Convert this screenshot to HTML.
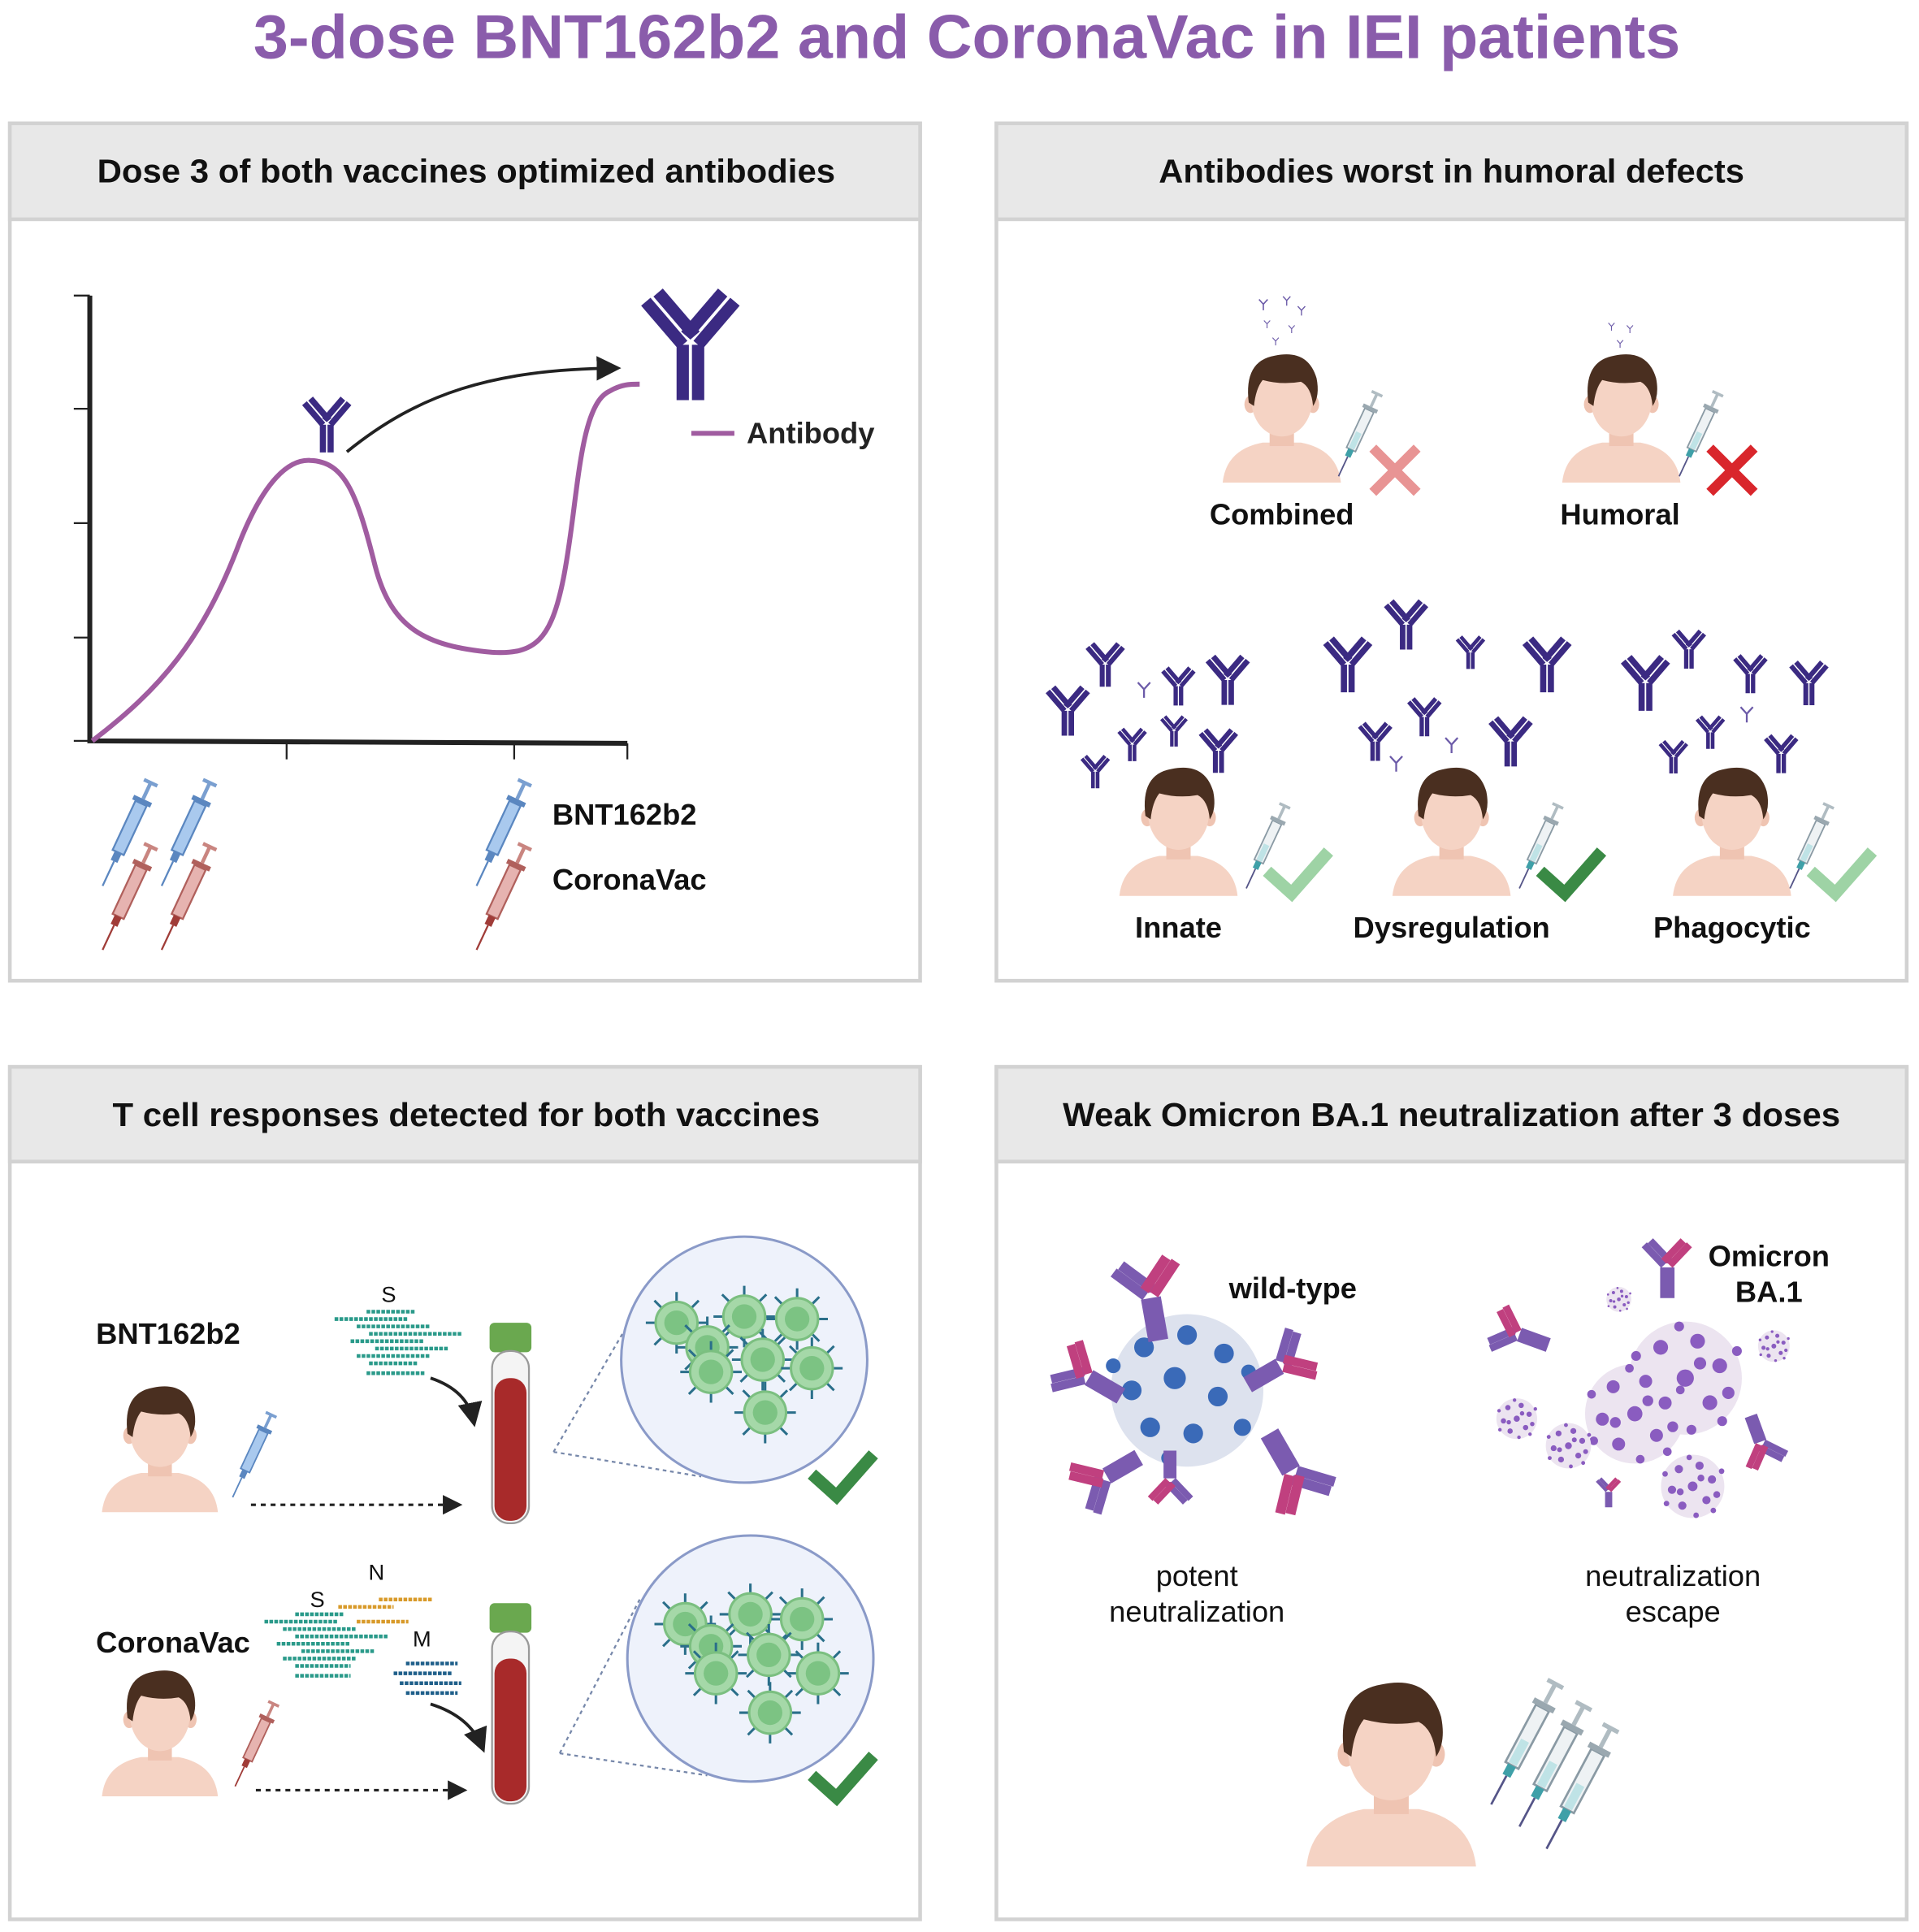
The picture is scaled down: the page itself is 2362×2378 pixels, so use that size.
<!DOCTYPE html>
<html><head><meta charset="utf-8"><style>
html,body{margin:0;padding:0;background:#fff}
svg{display:block}
text{font-family:"Liberation Sans",sans-serif}
</style></head><body>
<svg width="2362" height="2378" viewBox="0 0 1560 1570" xmlns="http://www.w3.org/2000/svg">
<defs>
<symbol id="person" viewBox="-70 0 140 150" overflow="visible">
 <path d="M-68,150 Q-64,112 -22,104 L22,104 Q64,112 68,150 Z" fill="#f5d3c4"/>
 <rect x="-14" y="82" width="28" height="26" fill="#efc4b2"/>
 <ellipse cx="-36" cy="60" rx="7" ry="10" fill="#efc4b2"/>
 <ellipse cx="36" cy="60" rx="7" ry="10" fill="#efc4b2"/>
 <ellipse cx="0" cy="55" rx="35" ry="42" fill="#f5d3c4"/>
 <path d="M-38,58 Q-44,10 -8,4 Q30,-4 40,30 Q44,50 36,62 Q34,40 22,34 Q0,38 -22,32 Q-30,42 -32,62 Z" fill="#4a2f20"/>
</symbol>
<symbol id="ab" viewBox="-20 -20 40 40" overflow="visible">
 <g stroke="#3b2a82" stroke-width="4" fill="none" stroke-linecap="butt">
 <path d="M-2,0 L-2,18 M3,0 L3,18 M-2,0 L-14,-14 M2,-3 L-10,-17 M3,0 L15,-14 M-1,-3 L11,-17"/>
 </g>
</symbol>
<symbol id="abs" viewBox="-20 -20 40 40" overflow="visible">
 <g stroke="#6b5aa8" stroke-width="3" fill="none">
 <path d="M0,0 L0,14 M0,0 L-10,-11 M0,0 L10,-11"/>
 </g>
</symbol>
<symbol id="syrB" viewBox="-10 -50 20 100" overflow="visible">
 <rect x="-5" y="-30" width="10" height="44" fill="#a9c9ee" stroke="#5b87c0" stroke-width="1.5"/>
 <rect x="-8" y="-34" width="16" height="4" fill="#5b87c0"/>
 <rect x="-1.5" y="-48" width="3" height="14" fill="#7a9fd0"/>
 <rect x="-6" y="-50" width="12" height="3" fill="#7a9fd0"/>
 <rect x="-3" y="14" width="6" height="8" fill="#5b87c0"/>
 <line x1="0" y1="22" x2="0" y2="44" stroke="#5b87c0" stroke-width="1.5"/>
</symbol>
<symbol id="syrR" viewBox="-10 -50 20 100" overflow="visible">
 <rect x="-5" y="-30" width="10" height="44" fill="#e6b3b0" stroke="#b0605c" stroke-width="1.5"/>
 <rect x="-8" y="-34" width="16" height="4" fill="#b0605c"/>
 <rect x="-1.5" y="-48" width="3" height="14" fill="#c98580"/>
 <rect x="-6" y="-50" width="12" height="3" fill="#c98580"/>
 <rect x="-3" y="14" width="6" height="8" fill="#a03c38"/>
 <line x1="0" y1="22" x2="0" y2="44" stroke="#a03c38" stroke-width="1.5"/>
</symbol>
<symbol id="syrG" viewBox="-10 -50 20 100" overflow="visible">
 <rect x="-5" y="-30" width="10" height="44" fill="#eef2f4" stroke="#8a9aa4" stroke-width="1.5"/>
 <rect x="-3" y="-5" width="6" height="18" fill="#bfe3e6"/>
 <rect x="-8" y="-34" width="16" height="4" fill="#9aa8b0"/>
 <rect x="-1.5" y="-48" width="3" height="14" fill="#b0bcc2"/>
 <rect x="-6" y="-50" width="12" height="3" fill="#b0bcc2"/>
 <rect x="-3" y="14" width="6" height="8" fill="#3fa0a8"/>
 <line x1="0" y1="22" x2="0" y2="44" stroke="#558" stroke-width="1.5"/>
</symbol>
<symbol id="cell" viewBox="-20 -20 40 40" overflow="visible">
 <g stroke="#2a6f8a" stroke-width="2">
 <path d="M0,-17 L0,-25 M0,17 L0,25 M-17,0 L-25,0 M17,0 L25,0 M-12,-12 L-18,-18 M12,12 L18,18 M12,-12 L18,-18 M-12,12 L-18,18"/>
 </g>
 <circle r="17" fill="#a5d8a8" stroke="#7bbf80" stroke-width="2"/>
 <circle r="10" fill="#7cc383"/>
</symbol>
<symbol id="virus" viewBox="-50 -50 100 100" overflow="visible">
 <circle r="46" fill="#ece4f0"/>
 <g fill="#8a5cc0">
 <circle cx="-20" cy="-25" r="6"/><circle cx="10" cy="-30" r="6"/><circle cx="28" cy="-10" r="6"/><circle cx="-30" cy="5" r="6"/>
 <circle cx="0" cy="0" r="7"/><circle cx="20" cy="20" r="6"/><circle cx="-15" cy="28" r="6"/><circle cx="35" cy="12" r="5"/>
 <circle cx="-5" cy="-42" r="4"/><circle cx="-40" cy="-18" r="4"/><circle cx="42" cy="-22" r="4"/><circle cx="5" cy="42" r="4"/>
 <circle cx="-38" cy="25" r="4"/><circle cx="30" cy="35" r="4"/><circle cx="-18" cy="8" r="5"/><circle cx="12" cy="-12" r="5"/>
 </g>
</symbol>
<symbol id="pab" viewBox="-30 -30 60 60" overflow="visible">
 <g stroke-width="7" fill="none">
 <path d="M-3,0 L-3,30 M4,0 L4,30" stroke="#7b5bb0"/>
 <path d="M-3,-2 L-22,-22 M3,-6 L-16,-26" stroke="#7b5bb0"/>
 <path d="M3,-2 L22,-22 M-3,-6 L16,-26" stroke="#c0407f"/>
 </g>
</symbol>
<marker id="ah" markerWidth="8" markerHeight="8" refX="6" refY="4" orient="auto"><path d="M0,0 L8,4 L0,8 Z" fill="#222"/></marker>
</defs>

<!-- Title -->
<text x="786" y="47" text-anchor="middle" font-size="50" font-weight="bold" fill="#8a5cab" textLength="1160" lengthAdjust="spacingAndGlyphs">3-dose BNT162b2 and CoronaVac in IEI patients</text>

<!-- Panels -->
<g stroke="#d2d2d2" stroke-width="3">
<rect x="8" y="100" width="740" height="697" fill="#fff"/>
<rect x="8" y="100" width="740" height="78" fill="#e8e8e8"/>
<rect x="810" y="100" width="740" height="697" fill="#fff"/>
<rect x="810" y="100" width="740" height="78" fill="#e8e8e8"/>
<rect x="8" y="867" width="740" height="693" fill="#fff"/>
<rect x="8" y="867" width="740" height="77" fill="#e8e8e8"/>
<rect x="810" y="867" width="740" height="693" fill="#fff"/>
<rect x="810" y="867" width="740" height="77" fill="#e8e8e8"/>
</g>
<g font-size="27" font-weight="bold" fill="#111" text-anchor="middle">
<text x="379" y="148" textLength="600" lengthAdjust="spacingAndGlyphs">Dose 3 of both vaccines optimized antibodies</text>
<text x="1180" y="148" textLength="476" lengthAdjust="spacingAndGlyphs">Antibodies worst in humoral defects</text>
<text x="379" y="915" textLength="575" lengthAdjust="spacingAndGlyphs">T cell responses detected for both vaccines</text>
<text x="1180" y="915" textLength="632" lengthAdjust="spacingAndGlyphs">Weak Omicron BA.1 neutralization after 3 doses</text>
</g>

<!-- Panel 1 graph -->
<g stroke="#222" stroke-width="4" fill="none">
<path d="M73,240 L73,602 L510,604"/>
</g>
<g stroke="#222" stroke-width="1.5">
<path d="M60,240 L73,240 M60,332 L73,332 M60,425 L73,425 M60,518 L73,518 M60,602 L73,602 M233,604 L233,617 M418,604 L418,617 M510,604 L510,617"/>
</g>
<path d="M75,602 C130,560 165,520 195,440 C215,390 235,373 252,374 C280,375 290,400 305,460 C318,510 345,525 400,530 C435,532 448,520 458,470 C470,410 470,330 495,318 C505,312 512,312 520,312" fill="none" stroke="#a05ca0" stroke-width="4"/>
<path d="M282,367 C340,320 400,300 500,299" fill="none" stroke="#222" stroke-width="2.5" marker-end="url(#ah)"/>
<line x1="562" y1="352" x2="597" y2="352" stroke="#a05ca0" stroke-width="4"/>
<text x="607" y="360" font-size="24" font-weight="bold" fill="#222">Antibody</text>
<use href="#ab" x="240" y="320" width="50" height="50"/>
<use href="#ab" x="510" y="230" width="100" height="100"/>
<use href="#syrB" x="92" y="630" width="20" height="100" transform="rotate(25 102 680)"/>
<use href="#syrR" x="92" y="682" width="20" height="100" transform="rotate(25 102 732)"/>
<use href="#syrB" x="140" y="630" width="20" height="100" transform="rotate(25 150 680)"/>
<use href="#syrR" x="140" y="682" width="20" height="100" transform="rotate(25 150 732)"/>
<use href="#syrB" x="396" y="630" width="20" height="100" transform="rotate(25 406 680)"/>
<use href="#syrR" x="396" y="682" width="20" height="100" transform="rotate(25 406 732)"/>
<text x="449" y="670" font-size="24" font-weight="bold" fill="#111">BNT162b2</text>
<text x="449" y="723" font-size="24" font-weight="bold" fill="#111">CoronaVac</text>

<!-- Panel 2 -->
<g>
<use href="#abs" x="1020" y="240" width="14" height="14"/><use href="#abs" x="1040" y="238" width="12" height="12"/><use href="#abs" x="1052" y="246" width="12" height="12"/>
<use href="#abs" x="1025" y="258" width="10" height="10"/><use href="#abs" x="1045" y="262" width="10" height="10"/><use href="#abs" x="1032" y="272" width="10" height="10"/>
<use href="#abs" x="1305" y="260" width="10" height="10"/><use href="#abs" x="1320" y="262" width="10" height="10"/><use href="#abs" x="1312" y="274" width="10" height="10"/>
</g>
<use href="#person" x="990" y="286" width="104" height="106"/>
<use href="#person" x="1266" y="286" width="104" height="106"/>
<use href="#syrG" x="1095" y="315" width="16" height="80" transform="rotate(25 1103 355)"/>
<use href="#syrG" x="1372" y="315" width="16" height="80" transform="rotate(25 1380 355)"/>
<path d="M1116,364 L1152,400 M1152,364 L1116,400" stroke="#e89494" stroke-width="8"/>
<path d="M1390,364 L1426,400 M1426,364 L1390,400" stroke="#d9262c" stroke-width="8"/>
<text x="1042" y="426" font-size="24" font-weight="bold" text-anchor="middle" fill="#111">Combined</text>
<text x="1317" y="426" font-size="24" font-weight="bold" text-anchor="middle" fill="#111">Humoral</text>

<g>
<use href="#ab" x="845" y="555" width="45" height="45"/><use href="#ab" x="878" y="520" width="40" height="40"/><use href="#ab" x="975" y="530" width="45" height="45"/>
<use href="#ab" x="940" y="540" width="35" height="35"/><use href="#ab" x="970" y="590" width="40" height="40"/><use href="#ab" x="875" y="612" width="30" height="30"/>
<use href="#ab" x="905" y="590" width="30" height="30"/><use href="#ab" x="940" y="580" width="28" height="28"/><use href="#abs" x="920" y="550" width="20" height="20"/>
<use href="#ab" x="1070" y="515" width="50" height="50"/><use href="#ab" x="1120" y="485" width="45" height="45"/><use href="#ab" x="1232" y="515" width="50" height="50"/>
<use href="#ab" x="1180" y="515" width="30" height="30"/><use href="#ab" x="1100" y="585" width="35" height="35"/><use href="#ab" x="1140" y="565" width="35" height="35"/>
<use href="#ab" x="1205" y="580" width="45" height="45"/><use href="#abs" x="1125" y="610" width="20" height="20"/><use href="#abs" x="1170" y="595" width="20" height="20"/>
<use href="#ab" x="1312" y="530" width="50" height="50"/><use href="#ab" x="1355" y="510" width="35" height="35"/><use href="#ab" x="1450" y="535" width="40" height="40"/>
<use href="#ab" x="1405" y="530" width="35" height="35"/><use href="#ab" x="1430" y="595" width="35" height="35"/><use href="#ab" x="1345" y="600" width="30" height="30"/>
<use href="#ab" x="1375" y="580" width="30" height="30"/><use href="#abs" x="1410" y="570" width="20" height="20"/>
</g>
<use href="#person" x="906" y="622" width="104" height="106"/>
<use href="#person" x="1128" y="622" width="104" height="106"/>
<use href="#person" x="1356" y="622" width="104" height="106"/>
<use href="#syrG" x="1020" y="650" width="16" height="80" transform="rotate(25 1028 690)"/>
<use href="#syrG" x="1242" y="650" width="16" height="80" transform="rotate(25 1250 690)"/>
<use href="#syrG" x="1462" y="650" width="16" height="80" transform="rotate(25 1470 690)"/>
<path d="M1030,708 L1050,726 L1080,692" fill="none" stroke="#9ed3a5" stroke-width="10"/>
<path d="M1252,708 L1272,726 L1302,692" fill="none" stroke="#3a8a45" stroke-width="10"/>
<path d="M1472,708 L1492,726 L1522,692" fill="none" stroke="#9ed3a5" stroke-width="10"/>
<g font-size="24" font-weight="bold" text-anchor="middle" fill="#111">
<text x="958" y="762">Innate</text><text x="1180" y="762">Dysregulation</text><text x="1408" y="762">Phagocytic</text>
</g>

<!-- Panel 3 -->
<text x="78" y="1092" font-size="24" font-weight="bold" fill="#111">BNT162b2</text>
<text x="78" y="1343" font-size="24" font-weight="bold" fill="#111">CoronaVac</text>
<use href="#person" x="78" y="1125" width="104" height="104"/>
<use href="#person" x="78" y="1356" width="104" height="104"/>
<use href="#syrB" x="196" y="1145" width="16" height="80" transform="rotate(25 204 1185)"/>
<use href="#syrR" x="198" y="1380" width="16" height="80" transform="rotate(25 206 1420)"/>
<line x1="204" y1="1223" x2="372" y2="1223" stroke="#222" stroke-width="2" stroke-dasharray="4,4" marker-end="url(#ah)"/>
<line x1="208" y1="1455" x2="376" y2="1455" stroke="#222" stroke-width="2" stroke-dasharray="4,4" marker-end="url(#ah)"/>
<text x="316" y="1058" font-size="18" text-anchor="middle" fill="#111">S</text>
<g stroke="#2a9a8a" stroke-width="3" stroke-dasharray="3,1">
<path d="M298,1066 L338,1066 M272,1072 L332,1072 M290,1078 L350,1078 M300,1084 L375,1084 M285,1090 L345,1090 M305,1096 L365,1096 M290,1102 L350,1102 M300,1108 L340,1108 M298,1116 L345,1116"/>
</g>
<path d="M350,1120 Q380,1130 385,1155" fill="none" stroke="#222" stroke-width="2.5" marker-end="url(#ah)"/>
<text x="258" y="1306" font-size="18" text-anchor="middle" fill="#111">S</text>
<text x="306" y="1284" font-size="18" text-anchor="middle" fill="#111">N</text>
<text x="343" y="1338" font-size="18" text-anchor="middle" fill="#111">M</text>
<g stroke="#2a9a8a" stroke-width="3" stroke-dasharray="3,1">
<path d="M240,1312 L280,1312 M215,1318 L275,1318 M230,1324 L290,1324 M240,1330 L315,1330 M225,1336 L285,1336 M245,1342 L305,1342 M230,1348 L290,1348 M240,1354 L285,1354 M240,1362 L285,1362"/>
</g>
<g stroke="#d89a2a" stroke-width="3" stroke-dasharray="3,1"><path d="M308,1300 L352,1300 M275,1306 L320,1306 M290,1318 L332,1318"/></g>
<g stroke="#1f5f8a" stroke-width="3" stroke-dasharray="3,1"><path d="M330,1352 L372,1352 M320,1360 L368,1360 M325,1368 L375,1368 M330,1376 L372,1376"/></g>
<path d="M350,1385 Q382,1395 392,1420" fill="none" stroke="#222" stroke-width="2.5" marker-end="url(#ah)"/>
<!-- tubes -->
<g>
<rect x="398" y="1075" width="34" height="24" rx="4" fill="#6aa84f"/>
<rect x="400" y="1098" width="30" height="140" rx="14" fill="#f4f4f4" stroke="#999" stroke-width="1.5"/>
<rect x="402" y="1120" width="26" height="116" rx="12" fill="#a82a2a"/>
<rect x="398" y="1303" width="34" height="24" rx="4" fill="#6aa84f"/>
<rect x="400" y="1326" width="30" height="140" rx="14" fill="#f4f4f4" stroke="#999" stroke-width="1.5"/>
<rect x="402" y="1348" width="26" height="116" rx="12" fill="#a82a2a"/>
</g>
<g stroke="#7788aa" stroke-width="1.5" stroke-dasharray="3,3" fill="none">
<path d="M450,1180 L520,1060 M450,1180 L570,1200"/>
<path d="M455,1425 L520,1300 M455,1425 L575,1443"/>
</g>
<circle cx="605" cy="1105" r="100" fill="#eef2fb" stroke="#8a9ac8" stroke-width="2"/>
<circle cx="610" cy="1348" r="100" fill="#eef2fb" stroke="#8a9ac8" stroke-width="2"/>
<g>
<use href="#cell" x="530" y="1055" width="40" height="40"/><use href="#cell" x="585" y="1050" width="40" height="40"/><use href="#cell" x="628" y="1052" width="40" height="40"/>
<use href="#cell" x="555" y="1075" width="40" height="40"/><use href="#cell" x="600" y="1085" width="40" height="40"/><use href="#cell" x="640" y="1092" width="40" height="40"/>
<use href="#cell" x="558" y="1095" width="40" height="40"/><use href="#cell" x="602" y="1128" width="40" height="40"/>
<use href="#cell" x="537" y="1300" width="40" height="40"/><use href="#cell" x="590" y="1292" width="40" height="40"/><use href="#cell" x="632" y="1296" width="40" height="40"/>
<use href="#cell" x="558" y="1318" width="40" height="40"/><use href="#cell" x="605" y="1325" width="40" height="40"/><use href="#cell" x="645" y="1340" width="40" height="40"/>
<use href="#cell" x="562" y="1340" width="40" height="40"/><use href="#cell" x="606" y="1372" width="40" height="40"/>
</g>
<path d="M660,1198 L680,1216 L710,1182" fill="none" stroke="#3a8a45" stroke-width="10"/>
<path d="M660,1443 L680,1461 L710,1427" fill="none" stroke="#3a8a45" stroke-width="10"/>

<!-- Panel 4 -->
<circle cx="965" cy="1130" r="62" fill="#dde2ee"/>
<g fill="#3a6ab8">
<circle cx="930" cy="1095" r="8"/><circle cx="965" cy="1085" r="8"/><circle cx="995" cy="1100" r="8"/><circle cx="920" cy="1130" r="8"/>
<circle cx="955" cy="1120" r="9"/><circle cx="990" cy="1135" r="8"/><circle cx="935" cy="1160" r="8"/><circle cx="970" cy="1165" r="8"/>
<circle cx="1010" cy="1160" r="7"/><circle cx="905" cy="1110" r="6"/><circle cx="1015" cy="1115" r="6"/><circle cx="950" cy="1185" r="6"/>
</g>
<use href="#pab" x="900" y="1020" width="70" height="70" transform="rotate(-10 935 1055)"/>
<use href="#pab" x="855" y="1090" width="60" height="60" transform="rotate(-60 885 1120)"/>
<use href="#pab" x="1010" y="1080" width="60" height="60" transform="rotate(60 1040 1110)"/>
<use href="#pab" x="870" y="1170" width="60" height="60" transform="rotate(-120 900 1200)"/>
<use href="#pab" x="1015" y="1160" width="70" height="70" transform="rotate(150 1050 1195)"/>
<use href="#pab" x="930" y="1180" width="45" height="45" transform="rotate(180 952 1202)"/>
<text x="999" y="1055" font-size="24" font-weight="bold" fill="#111">wild-type</text>
<text x="973" y="1289" font-size="24" text-anchor="middle" fill="#111">potent</text>
<text x="973" y="1318" font-size="24" text-anchor="middle" fill="#111">neutralization</text>

<use href="#virus" x="1320" y="1070" width="100" height="100"/>
<use href="#virus" x="1285" y="1105" width="88" height="88"/>
<use href="#virus" x="1348" y="1180" width="56" height="56"/>
<use href="#virus" x="1215" y="1135" width="36" height="36"/>
<use href="#virus" x="1255" y="1155" width="40" height="40"/>
<use href="#virus" x="1428" y="1080" width="28" height="28"/>
<use href="#virus" x="1305" y="1045" width="22" height="22"/>
<use href="#pab" x="1330" y="1005" width="50" height="50"/>
<use href="#pab" x="1210" y="1060" width="50" height="50" transform="rotate(-70 1235 1085)"/>
<use href="#pab" x="1410" y="1150" width="45" height="45" transform="rotate(160 1432 1172)"/>
<use href="#pab" x="1295" y="1200" width="25" height="25"/>
<text x="1438" y="1029" font-size="24" font-weight="bold" text-anchor="middle" fill="#111">Omicron</text>
<text x="1438" y="1058" font-size="24" font-weight="bold" text-anchor="middle" fill="#111">BA.1</text>
<text x="1360" y="1289" font-size="24" text-anchor="middle" fill="#111">neutralization</text>
<text x="1360" y="1318" font-size="24" text-anchor="middle" fill="#111">escape</text>

<use href="#person" x="1060" y="1365" width="142" height="152"/>
<use href="#syrG" x="1225" y="1360" width="24" height="120" transform="rotate(28 1237 1420)"/>
<use href="#syrG" x="1248" y="1378" width="24" height="120" transform="rotate(28 1260 1438)"/>
<use href="#syrG" x="1270" y="1396" width="24" height="120" transform="rotate(28 1282 1456)"/>
</svg>
</body></html>
